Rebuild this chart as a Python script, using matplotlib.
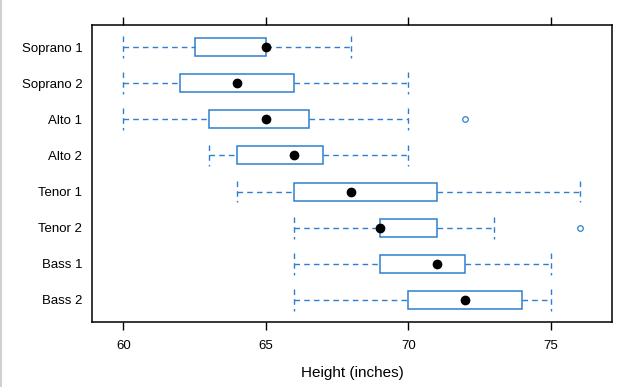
import matplotlib
matplotlib.use("Agg")
import matplotlib.pyplot as plt
from matplotlib.patches import Rectangle

plt.rcParams['font.family'] = ['Liberation Sans', 'DejaVu Sans']

voice_parts = ["Soprano 1", "Soprano 2", "Alto 1", "Alto 2",
               "Tenor 1", "Tenor 2", "Bass 1", "Bass 2"]
whisker_low = [60, 60, 60, 63, 64, 66, 66, 66]
q1 = [62.5, 62, 63, 64, 66, 69, 69, 70]
median = [65, 64, 65, 66, 68, 69, 71, 72]
q3 = [65, 66, 66.5, 67, 71, 71, 72, 74]
whisker_high = [68, 70, 70, 70, 76, 73, 75, 75]
outliers = {"Alto 1": [72], "Tenor 2": [76]}
xticks = [60, 65, 70, 75]

blue = "#2f7fd0"

fig = plt.figure(figsize=(6.25, 3.87), dpi=100)
ax = fig.add_axes([92/625, 1-322/387, (612-92)/625, (322-25)/387])

box_h = 0.5
cap_h = 0.6
for i, name in enumerate(voice_parts):
    y = i + 1
    ax.add_patch(Rectangle((q1[i], y - box_h/2), q3[i] - q1[i], box_h,
                           fill=False, edgecolor=blue, linewidth=1.1, zorder=2))
    ax.plot([whisker_low[i], q1[i]], [y, y], color=blue, lw=1.0,
            linestyle=(0, (4, 3)), zorder=1)
    ax.plot([q3[i], whisker_high[i]], [y, y], color=blue, lw=1.0,
            linestyle=(0, (4, 3)), zorder=1)
    for w in (whisker_low[i], whisker_high[i]):
        ax.plot([w, w], [y - cap_h/2, y + cap_h/2], color=blue, lw=1.0,
                linestyle=(0, (4, 3)), zorder=1)
    ax.plot([median[i]], [y], marker='o', markersize=6, color='black',
            linestyle='none', zorder=3)
    for o in outliers.get(name, []):
        ax.plot([o], [y], marker='o', markersize=4, markerfacecolor='white',
                markeredgecolor=blue, markeredgewidth=0.9, linestyle='none', zorder=3)

ax.set_xlim(58.9, 77.14)
ax.set_ylim(8.61, 0.39)
ax.set_yticks(range(1, len(voice_parts) + 1))
ax.set_yticklabels(voice_parts, fontsize=9.5)
ax.set_xticks(xticks)
ax.set_xticklabels([str(t) for t in xticks], fontsize=9.5)
ax.tick_params(axis='y', length=0, pad=7)
ax.tick_params(axis='x', direction='out', length=6, width=1, top=True,
               labeltop=False, pad=7)
for s in ax.spines.values():
    s.set_linewidth(1.1)
ax.set_xlabel("Height (inches)", fontsize=11, labelpad=10)

fig.patches.append(Rectangle((0, 0), 2/625, 1, transform=fig.transFigure,
                             facecolor="#d0d0d0", edgecolor='none'))
fig.savefig("out.png", dpi=100)
